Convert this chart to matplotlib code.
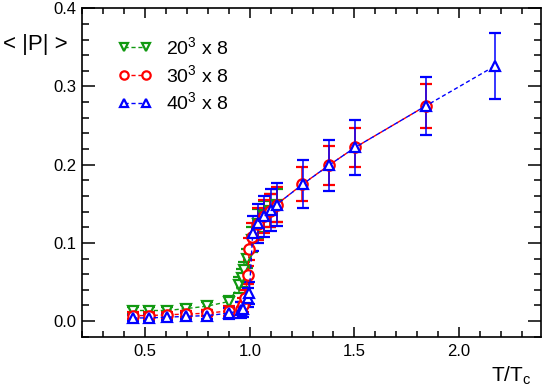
import matplotlib
matplotlib.use("Agg")
import matplotlib.pyplot as plt
from matplotlib.ticker import MultipleLocator

plt.rcParams['font.family'] = ['Liberation Sans', 'DejaVu Sans']
plt.rcParams['mathtext.fontset'] = 'custom'
plt.rcParams['mathtext.rm'] = 'Liberation Sans'
plt.rcParams['mathtext.it'] = 'Liberation Sans'

# ---- data ----
T20 = [0.442, 0.517, 0.605, 0.697, 0.795, 0.90, 0.950, 0.962, 0.972, 0.987, 1.012, 1.038, 1.07, 1.098, 1.128]
P20 = [0.0135, 0.0135, 0.0135, 0.016, 0.019, 0.025, 0.046, 0.055, 0.065, 0.080, 0.104, 0.124, 0.134, 0.141, 0.148]
E20 = [0.004, 0.004, 0.004, 0.004, 0.005, 0.007, 0.010, 0.011, 0.011, 0.012, 0.016, 0.019, 0.020, 0.021, 0.021]

T30 = [0.442, 0.517, 0.605, 0.697, 0.795, 0.90, 0.958, 0.967, 0.978, 0.990, 0.998, 1.012, 1.038, 1.07, 1.098, 1.128, 1.252, 1.377, 1.503, 1.84]
P30 = [0.007, 0.007, 0.008, 0.009, 0.010, 0.013, 0.016, 0.020, 0.030, 0.059, 0.092, 0.108, 0.124, 0.134, 0.141, 0.149, 0.175, 0.199, 0.222, 0.275]
E30 = [0.004, 0.004, 0.004, 0.004, 0.004, 0.006, 0.008, 0.009, 0.010, 0.012, 0.014, 0.018, 0.020, 0.021, 0.021, 0.022, 0.022, 0.025, 0.025, 0.028]

T40 = [0.442, 0.517, 0.605, 0.697, 0.795, 0.90, 0.958, 0.967, 0.993, 0.998, 1.014, 1.041, 1.07, 1.10, 1.128, 1.253, 1.377, 1.503, 1.84, 2.173]
P40 = [0.004, 0.004, 0.005, 0.006, 0.007, 0.010, 0.014, 0.015, 0.030, 0.036, 0.112, 0.125, 0.134, 0.142, 0.149, 0.175, 0.199, 0.222, 0.275, 0.3265]
E40 = [0.004, 0.004, 0.004, 0.004, 0.005, 0.007, 0.010, 0.010, 0.012, 0.014, 0.022, 0.025, 0.026, 0.027, 0.028, 0.031, 0.033, 0.035, 0.037, 0.042]

labels = [r'20$^3$ x 8', r'30$^3$ x 8', r'40$^3$ x 8']
colors = ['#119911', '#ff0000', '#0000ff']
markers = ['v', 'o', '^']

fig = plt.figure(figsize=(5.45, 3.92), dpi=100)
ax = fig.add_axes([82.3/545, 1-336.7/392, (540.7-82.3)/545, (336.7-8.3)/392])

series = [(T20, P20, E20), (T30, P30, E30), (T40, P40, E40)]
handles = []
for (T, P, E), c, m, lab in zip(series, colors, markers, labels):
    eb = ax.errorbar(T, P, yerr=E, color=c, ecolor=c, elinewidth=1.1, capsize=4.5, capthick=1.1,
                     marker=m, markersize=7.5, markerfacecolor='white', markeredgecolor=c,
                     markeredgewidth=1.6, linestyle=(0, (3, 2)), linewidth=1.0, label=lab)
    handles.append(eb[0])

ax.set_xlim(0.2, 2.39)
ax.set_ylim(-0.02, 0.4)
ax.xaxis.set_major_locator(MultipleLocator(0.5))
ax.xaxis.set_minor_locator(MultipleLocator(0.1))
ax.yaxis.set_major_locator(MultipleLocator(0.1))
ax.yaxis.set_minor_locator(MultipleLocator(0.02))
ax.set_xticks([0.5, 1.0, 1.5, 2.0])
ax.set_xticklabels(['0.5', '1.0', '1.5', '2.0'])
ax.set_yticks([0.0, 0.1, 0.2, 0.3, 0.4])
ax.set_yticklabels(['0.0', '0.1', '0.2', '0.3', '0.4'])

ax.tick_params(axis='both', which='both', direction='in', top=True, right=True, width=1.1, labelsize=12)
ax.tick_params(axis='y', which='major', length=9.5, pad=4)
ax.tick_params(axis='y', which='minor', length=5)
ax.tick_params(axis='x', which='major', length=7, pad=5)
ax.tick_params(axis='x', which='minor', length=4)
for s in ax.spines.values():
    s.set_linewidth(1.2)

leg = ax.legend(handles=handles, labels=labels, loc='upper left', numpoints=2,
                bbox_to_anchor=(118/545, 1-36/392), bbox_transform=fig.transFigure,
                frameon=False, fontsize=14, handlelength=1.76, handletextpad=0.69,
                labelspacing=0.3, borderpad=0, borderaxespad=0, markerscale=0.8)

fig.text(2.7/545, 1-50/392, '< |P| >', fontsize=16, ha='left', va='baseline')
fig.text(531.7/545, 1-381.7/392, r'T/T$_{\rm c}$', fontsize=15, ha='right', va='baseline')

fig.savefig('out.png', dpi=100)
